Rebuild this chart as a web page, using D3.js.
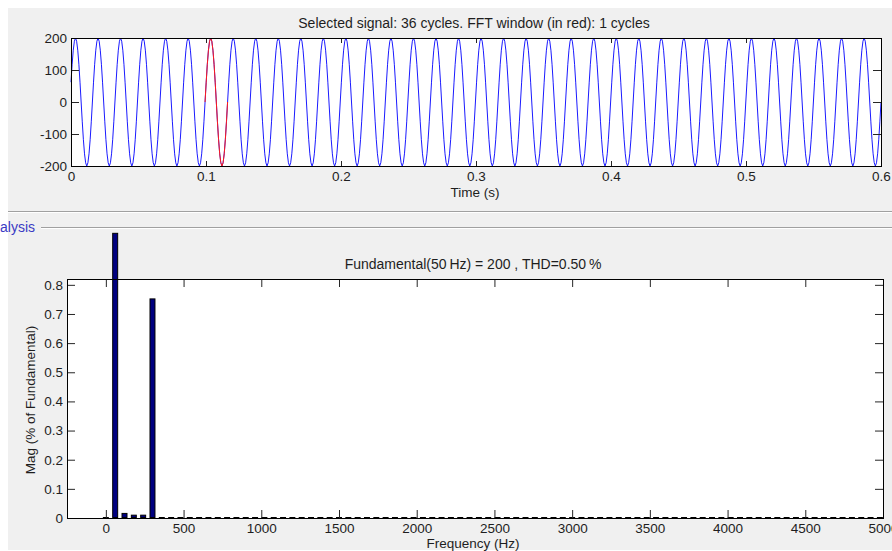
<!DOCTYPE html>
<html>
<head>
<meta charset="utf-8">
<script src="https://cdn.jsdelivr.net/npm/d3@7"></script>
<style>
  html, body { margin: 0; padding: 0; background: #ffffff; }
  svg { display: block; }
  text { font-family: "Liberation Sans", Arial, sans-serif; }
</style>
</head>
<body>
<svg id="chart" width="892" height="551"></svg>
<script>
// ---------------- DATA ----------------
// Top panel: selected signal (one cycle of samples; repeated over the shown cycles)
const signalCycleSamples = [0, 62, 118, 162, 190, 200, 190, 162, 118, 62, 0, -62, -118, -162, -190, -200, -190, -162, -118, -62];
const signalCycleCount = 36;
const signalStartSample = 1;       // the trace starts one sample after a rising zero crossing
const signalDuration = 0.6;        // s
const fftWindowCycle = 6;          // 0-based cycle shown in red
const topXTicks = [0, 0.1, 0.2, 0.3, 0.4, 0.5, 0.6];
const topXTickLabels = ["0", "0.1", "0.2", "0.3", "0.4", "0.5", "0.6"];
const topYTicks = [-200, -100, 0, 100, 200];
const topYTickLabels = ["-200", "-100", "0", "100", "200"];

// Bottom panel: harmonic spectrum (% of fundamental as drawn), harmonic spacing 60 Hz
const harmonicStepHz = 60;
const harmonicMagnitudes = [
  0, 0.975, 0.014, 0.008, 0.008, 0.75, 0, 0, 0, 0,
  0, 0, 0, 0, 0, 0, 0, 0, 0, 0,
  0, 0, 0, 0, 0, 0, 0, 0, 0, 0,
  0, 0, 0, 0, 0, 0, 0, 0, 0, 0,
  0, 0, 0, 0, 0, 0, 0, 0, 0, 0,
  0, 0, 0, 0, 0, 0, 0, 0, 0, 0,
  0, 0, 0, 0, 0, 0, 0, 0, 0, 0,
  0, 0, 0, 0, 0, 0, 0, 0, 0, 0,
  0, 0, 0, 0
];
const botXTicks = [0, 500, 1000, 1500, 2000, 2500, 3000, 3500, 4000, 4500, 5000];
const botXTickLabels = ["0", "500", "1000", "1500", "2000", "2500", "3000", "3500", "4000", "4500", "5000"];
const botYTicks = [0, 0.1, 0.2, 0.3, 0.4, 0.5, 0.6, 0.7, 0.8];
const botYTickLabels = ["0", "0.1", "0.2", "0.3", "0.4", "0.5", "0.6", "0.7", "0.8"];

const topTitle = "Selected signal: 36 cycles. FFT window (in red): 1 cycles";
const topXLabel = "Time (s)";
const botTitle = "Fundamental(50\u2009Hz) = 200 , THD=0.50\u2009%";
const botXLabel = "Frequency (Hz)";
const botYLabel = "Mag (% of Fundamental)";
const panelLabel = "alysis";

// ---------------- DRAW ----------------
const svg = d3.select("#chart");
const TXT = "#1e1e1e";
const FS = "13.5px";
const FT = "14px";

// background
svg.append("rect").attr("x", 0).attr("y", 0).attr("width", 892).attr("height", 551).attr("fill", "#ffffff");
svg.append("rect").attr("x", 8).attr("y", 8).attr("width", 884).attr("height", 542).attr("fill", "#f0f0f0");

// separator lines (etched)
svg.append("line").attr("x1", 8).attr("x2", 892).attr("y1", 211.5).attr("y2", 211.5).attr("stroke", "#a0a0a0");
svg.append("line").attr("x1", 8).attr("x2", 892).attr("y1", 212.5).attr("y2", 212.5).attr("stroke", "#ffffff");
svg.append("line").attr("x1", 41).attr("x2", 892).attr("y1", 227.5).attr("y2", 227.5).attr("stroke", "#a0a0a0");
svg.append("line").attr("x1", 41).attr("x2", 892).attr("y1", 228.5).attr("y2", 228.5).attr("stroke", "#ffffff");
svg.append("text").attr("x", 0).attr("y", 231.5).attr("font-size", "14px")
  .attr("font-family", "DejaVu Sans, sans-serif").attr("fill", "#3b3bc4").text(panelLabel);

function styleAxis(g) {
  g.select(".domain").remove();
  g.selectAll(".tick line").attr("stroke", "#262626");
  g.selectAll(".tick text").attr("fill", TXT).attr("font-size", FS)
    .attr("font-family", "Liberation Sans, Arial, sans-serif");
}

function drawFrame(g, x, y) {
  const [xa, xb] = x.range();
  const [ya, yb] = y.range(); // ya = bottom, yb = top
  g.append("rect").attr("x", xa).attr("y", yb).attr("width", xb - xa).attr("height", ya - yb)
    .attr("fill", "#ffffff");
}

function drawAxes(g, x, y, xt, xl, yt, yl, xTick, yTick, labelGapY) {
  const [xa, xb] = x.range();
  const [ya, yb] = y.range();
  const bottom = g.append("g").attr("transform", `translate(0,${ya})`)
    .call(d3.axisBottom(x).tickValues(xt).tickFormat((d, i) => xl[i]).tickSizeInner(-xTick).tickSizeOuter(0).tickPadding(5));
  styleAxis(bottom);
  bottom.selectAll(".tick text").attr("y", labelGapY);
  const top = g.append("g").attr("transform", `translate(0,${yb})`)
    .call(d3.axisTop(x).tickValues(xt).tickFormat("").tickSizeInner(-xTick).tickSizeOuter(0));
  styleAxis(top);
  const left = g.append("g").attr("transform", `translate(${xa},0)`)
    .call(d3.axisLeft(y).tickValues(yt).tickFormat((d, i) => yl[i]).tickSizeInner(-yTick).tickSizeOuter(0).tickPadding(4));
  styleAxis(left);
  left.selectAll(".tick text").attr("x", -4);
  const right = g.append("g").attr("transform", `translate(${xb},0)`)
    .call(d3.axisRight(y).tickValues(yt).tickFormat("").tickSizeInner(-yTick).tickSizeOuter(0));
  styleAxis(right);
  g.append("rect").attr("x", xa + 0.5).attr("y", yb + 0.5).attr("width", xb - xa).attr("height", ya - yb)
    .attr("fill", "none").attr("stroke", "#000").attr("stroke-width", 1);
}

// ---- Top panel ----
const gTop = svg.append("g");
const xTime = d3.scaleLinear().domain([0, signalDuration]).range([71, 881]);
const ySig = d3.scaleLinear().domain([-200, 200]).range([166, 38]);
drawFrame(gTop, xTime, ySig);

const nSamples = signalCycleCount * signalCycleSamples.length; // last sample index
const dt = signalDuration / (nSamples - signalStartSample);
const signal = [];
for (let c = 0; c <= signalCycleCount; c++) {
  signalCycleSamples.forEach((v, k) => {
    const idx = c * signalCycleSamples.length + k;
    if (idx >= signalStartSample && idx <= nSamples) signal.push({ idx, t: (idx - signalStartSample) * dt, v });
  });
}
const winStart = fftWindowCycle * signalCycleSamples.length;
const winEnd = winStart + signalCycleSamples.length;
const windowPts = signal.filter(d => d.idx >= winStart && d.idx <= winEnd);

const line = d3.line().x(d => xTime(d.t)).y(d => ySig(d.v));
gTop.append("path").datum(signal).attr("d", line).attr("fill", "none").attr("stroke", "#1a1aff").attr("stroke-width", 1);
gTop.append("path").datum(windowPts).attr("d", line).attr("fill", "none").attr("stroke", "#ff1a1a").attr("stroke-width", 1);

drawAxes(gTop, xTime, ySig, topXTicks, topXTickLabels, topYTicks, topYTickLabels, 5, 8, 5);

gTop.append("text").attr("x", 474).attr("y", 28).attr("text-anchor", "middle").attr("font-size", FT).attr("fill", TXT).text(topTitle);
gTop.append("text").attr("x", 475).attr("y", 197).attr("text-anchor", "middle").attr("font-size", FS).attr("fill", TXT).text(topXLabel);

// ---- Bottom panel ----
const gBot = svg.append("g");
const xFreq = d3.scaleLinear().domain([-250, 5000]).range([67, 883]);
const yMag = d3.scaleLinear().domain([0, 0.82]).range([518, 279]);
drawFrame(gBot, xFreq, yMag);

const barW = 32; // Hz
const bars = harmonicMagnitudes.map((m, i) => ({ f: i * harmonicStepHz, m }));
gBot.append("g").selectAll("rect").data(bars).join("rect")
  .attr("x", d => xFreq(d.f - barW / 2))
  .attr("y", d => yMag(d.m) - 0.5)
  .attr("width", d => xFreq(d.f + barW / 2) - xFreq(d.f - barW / 2))
  .attr("height", d => Math.max(yMag(0) - yMag(d.m), 0.01))
  .attr("fill", "#000080")
  .attr("stroke", "#000")
  .attr("stroke-width", 1);

drawAxes(gBot, xFreq, yMag, botXTicks, botXTickLabels, botYTicks, botYTickLabels, 8, 8, 5);

gBot.append("text").attr("x", 473).attr("y", 269).attr("text-anchor", "middle").attr("font-size", FT).attr("fill", TXT).text(botTitle);
gBot.append("text").attr("x", 473).attr("y", 548).attr("text-anchor", "middle").attr("font-size", FS).attr("fill", TXT).text(botXLabel);
gBot.append("text").attr("transform", "translate(35,400) rotate(-90)").attr("text-anchor", "middle").attr("font-size", FS).attr("fill", TXT).text(botYLabel);
</script>
</body>
</html>
